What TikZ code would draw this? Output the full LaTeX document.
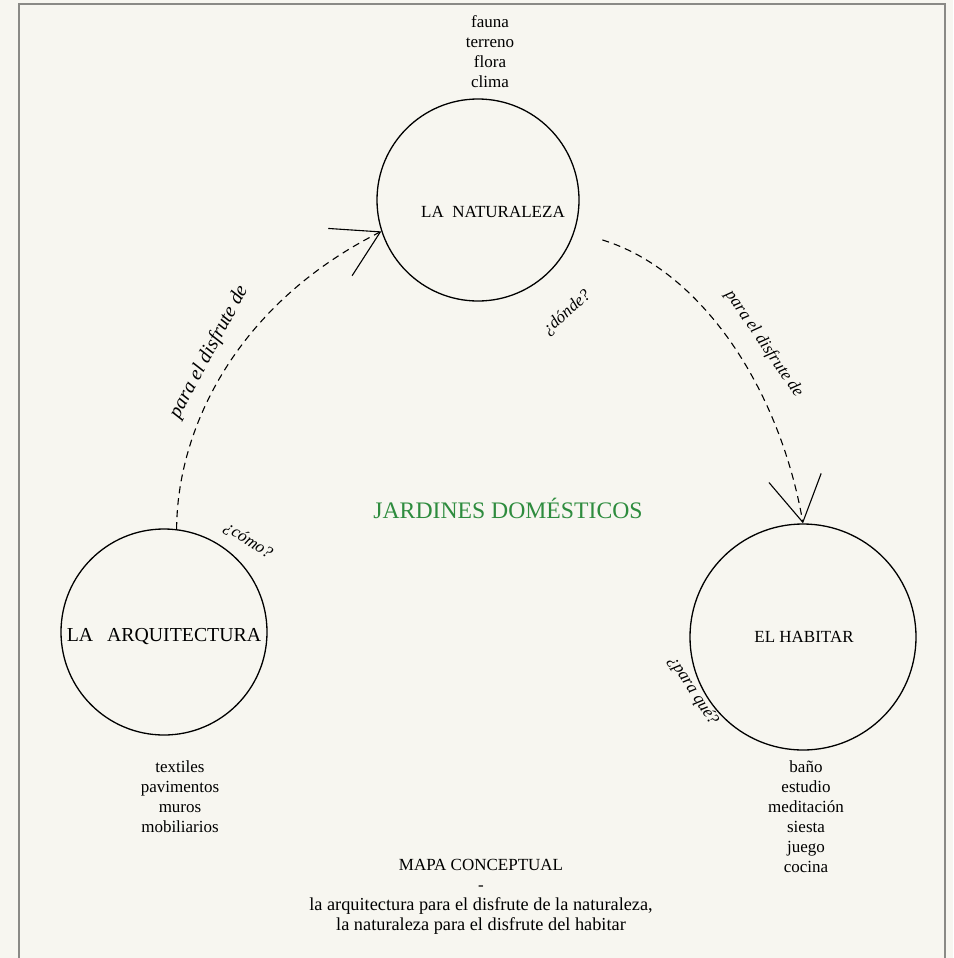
\documentclass[tikz,border=0pt]{standalone}
\usepackage{fontspec}
\setmainfont{Liberation Serif}
\usetikzlibrary{arrows.meta}
\definecolor{papel}{RGB}{247,246,240}
\definecolor{marco}{RGB}{138,138,134}
\definecolor{verde}{RGB}{46,140,62}
\newcommand{\grande}{\fontsize{18.3}{20}\selectfont}

\begin{document}
\begin{tikzpicture}[x=1pt,y=-1pt,
    >={Straight Barb[length=45pt,width=53pt]},
    esfera/.style={circle,draw,line width=1.3pt,inner sep=0pt},
    texto/.style={align=center,font=\fontsize{17}{20}\selectfont},
    pregunta/.style={font=\fontsize{17}{20}\selectfont\itshape},
    enlace/.style={->,line width=1.1pt,dash pattern=on 7pt off 5pt}]

  \fill[papel] (0,0) rectangle (953,958);
  \useasboundingbox (0,0) rectangle (953,958);
  \draw[marco,line width=2pt] (19,958) -- (19,4) -- (945,4) -- (945,958);

  % los tres circulos
  \node[esfera,minimum size=202pt] (nat) at (478,200) {};
  \node[esfera,minimum size=206pt] (arq) at (164,632) {};
  \node[esfera,minimum size=226pt] (hab) at (803,637) {};

  \node[texto] (natT) at (493,212) {LA\hspace{0.5em}NATURALEZA};
  \node[texto,font=\fontsize{19.8}{20}\selectfont] (arqT) at (164,637) {LA\hspace{0.7em}ARQUITECTURA};
  \node[texto] (habT) at (804,637) {EL HABITAR};

  \node[texto,text=verde,font=\fontsize{23.7}{28}\selectfont]
    (titulo) at (508,508) {JARDINES DOMÉSTICOS};

  % listas
  \node[texto] (natL) at (490,52) {fauna\\terreno\\flora\\clima};
  \node[texto] (arqL) at (180,797) {textiles\\pavimentos\\muros\\mobiliarios};
  \node[texto] (habL) at (806,817) {baño\\estudio\\meditación\\siesta\\juego\\cocina};
  \node[texto] (mapa) at (481,897) {MAPA CONCEPTUAL\\-\\{\grande la arquitectura para el disfrute de la naturaleza,}\\{\grande la naturaleza para el disfrute del habitar}};

  % preguntas
  \node[pregunta,rotate=42]  (donde) at (567,313) {¿dónde?};
  \node[pregunta,rotate=-33] (como)  at (248,541) {¿cómo?};
  \node[pregunta,rotate=-57] (paraq) at (693,691) {¿para qué?};

  % enlaces
  \draw[enlace] (arq.83) .. controls (177,430) and (235,305) .. (nat.198);
  \draw[enlace,shorten <=29pt] (nat.-18) .. controls (700,270) and (779,386) .. (hab.north);
  \node[pregunta,font=\fontsize{20}{20}\selectfont\itshape,rotate=62]
    (arqE) at (209,352) {para el disfrute de};
  \node[pregunta,rotate=-55.6] (natE) at (764,344) {para el disfrute de};
\end{tikzpicture}
\end{document}
